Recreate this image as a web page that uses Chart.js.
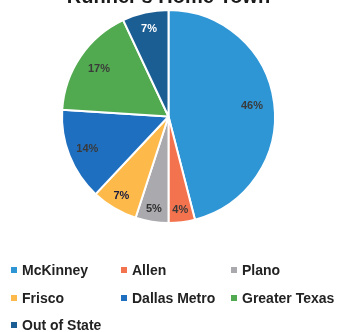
<!DOCTYPE html>
<html>
<head>
<meta charset="utf-8">
<script src="https://cdn.jsdelivr.net/npm/chart.js@4.4.0/dist/chart.umd.min.js"></script>
<style>
  html, body { margin: 0; padding: 0; background: #fff; }
  body { width: 337px; height: 332px; position: relative; overflow: hidden; }
  #wrap { position: absolute; left: 0; top: -15px; width: 337px; height: 239px; }
  #legend { position: absolute; left: 0; top: 0; width: 337px; height: 332px; pointer-events: none; }
  .item { position: absolute; font-family: "Liberation Sans", Arial, sans-serif; font-weight: bold; font-size: 14px; color: #222; white-space: nowrap; line-height: 16px; }
  .box { position: absolute; width: 6px; height: 6px; top: 5px; left: 0; }
  .lbl { position: absolute; left: 11px; top: 0; }
</style>
</head>
<body>
<div id="wrap"><canvas id="c"></canvas></div>
<div id="legend"></div>
<script>
const categories = ["McKinney", "Allen", "Plano", "Frisco", "Dallas Metro", "Greater Texas", "Out of State"];
const values = [46, 4, 5, 7, 14, 17, 7];
const labels = ["46%", "4%", "5%", "7%", "14%", "17%", "7%"];
const colors = ["#2f96d6", "#f4734f", "#a9a9ae", "#fdba4a", "#1f6fc0", "#52aa50", "#1b5e94"];
const labelColors = ["#3a3a3a", "#3a3a3a", "#303030", "#1a1a40", "#3a3a3a", "#3a3a3a", "#ffffff"];
const labelRadius = [0.79, 0.88, 0.88, 0.87, 0.82, 0.79, 0.84];

const sliceLabels = {
  id: 'sliceLabels',
  afterDatasetsDraw(chart) {
    const ctx = chart.ctx;
    const meta = chart.getDatasetMeta(0);
    ctx.save();
    ctx.font = 'bold 11px "Liberation Sans", Arial, sans-serif';
    ctx.textAlign = 'center';
    ctx.textBaseline = 'middle';
    meta.data.forEach((arc, i) => {
      const p = arc.getProps(['x', 'y', 'startAngle', 'endAngle', 'outerRadius'], true);
      const a = (p.startAngle + p.endAngle) / 2;
      const r = p.outerRadius * labelRadius[i];
      ctx.fillStyle = labelColors[i];
      ctx.fillText(labels[i], p.x + Math.cos(a) * r, p.y + Math.sin(a) * r);
    });
    ctx.restore();
  }
};

new Chart(document.getElementById('c'), {
  type: 'pie',
  data: {
    labels: categories,
    datasets: [{
      data: values,
      backgroundColor: colors,
      borderColor: '#ffffff',
      borderWidth: 2
    }]
  },
  options: {
    responsive: true,
    maintainAspectRatio: false,
    animation: false,
    layout: { padding: 0 },
    plugins: {
      legend: { display: false },
      tooltip: { enabled: false },
      title: {
        display: true,
        text: "Runner's Home Town",
        color: '#1a1a1a',
        font: { family: '"Liberation Sans", Arial, sans-serif', size: 20, weight: 'bold' },
        padding: { top: 0, bottom: 0 }
      }
    }
  },
  plugins: [sliceLabels]
});

// HTML legend in three columns
const colX = [11, 121, 231];
const rowY = [262, 290, 317];
const legend = document.getElementById('legend');
categories.forEach((name, i) => {
  const d = document.createElement('div');
  d.className = 'item';
  d.style.left = colX[i % 3] + 'px';
  d.style.top = rowY[Math.floor(i / 3)] + 'px';
  const b = document.createElement('div');
  b.className = 'box';
  b.style.background = colors[i];
  const t = document.createElement('span');
  t.className = 'lbl';
  t.textContent = name;
  d.appendChild(b);
  d.appendChild(t);
  legend.appendChild(d);
});
</script>
</body>
</html>
